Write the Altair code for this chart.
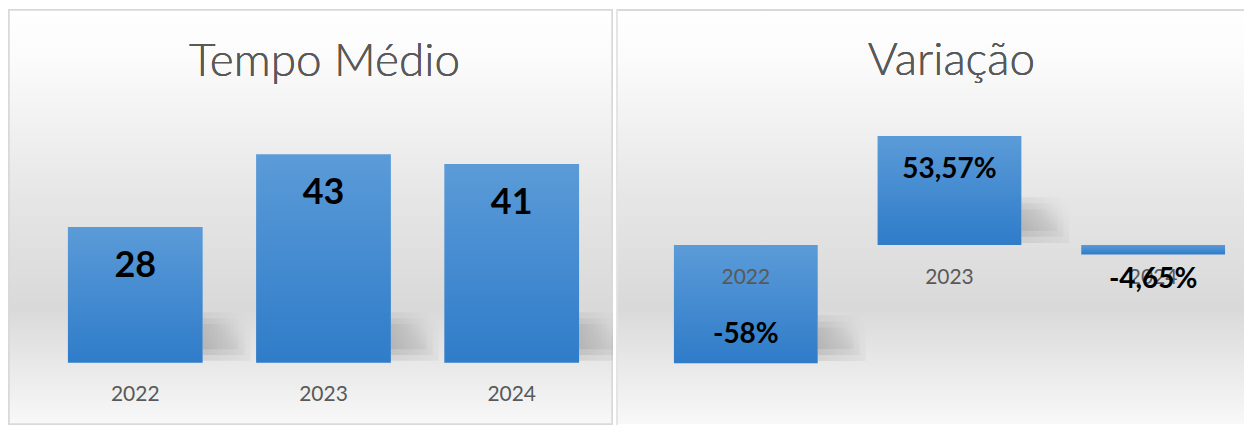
import altair as alt
import pandas as pd

# ---- data ----
years = ["2022", "2023", "2024"]
tempo_medio = [28, 43, 41]
tempo_labels = ["28", "43", "41"]
variacao = [-58, 53.57, -4.65]
variacao_labels = ["-58%", "53,57%", "-4,65%"]
titles = ["Tempo Médio", "Variação"]

df1 = pd.DataFrame({"ano": years, "valor": tempo_medio, "rotulo": tempo_labels})
df2 = pd.DataFrame({"ano": years, "valor": variacao, "rotulo": variacao_labels})

W1, W2, H = 606, 629, 416
FONT = "Lato"
GRAY = "#595959"

bg_gradient = {
    "gradient": "linear", "x1": 0, "y1": 0, "x2": 0, "y2": 1,
    "stops": [
        {"offset": 0.0, "color": "#ffffff"},
        {"offset": 0.12, "color": "#fbfbfb"},
        {"offset": 0.45, "color": "#e6e6e6"},
        {"offset": 0.72, "color": "#d9d9d9"},
        {"offset": 0.86, "color": "#e9e9e9"},
        {"offset": 1.0, "color": "#f8f8f8"},
    ],
}
bar_gradient = {
    "gradient": "linear", "x1": 0, "y1": 0, "x2": 0, "y2": 1,
    "stops": [
        {"offset": 0.0, "color": "#5b9bd8"},
        {"offset": 1.0, "color": "#2f7cc9"},
    ],
}
shadow_gradient = {
    "gradient": "linear", "x1": 0, "y1": 0.8, "x2": 1, "y2": 0.2,
    "stops": [
        {"offset": 0.0, "color": "rgba(80,80,80,0.12)"},
        {"offset": 0.5, "color": "rgba(80,80,80,0.07)"},
        {"offset": 1.0, "color": "rgba(80,80,80,0)"},
    ],
}


def background(df, w, stroke):
    kw = dict(fill=bg_gradient)
    if stroke:
        kw.update(stroke=stroke, strokeWidth=1.5)
    return alt.Chart(df).mark_rect(**kw).encode(
        x=alt.value(1), x2=alt.value(w - 1), y=alt.value(0.75), y2=alt.value(H - 0.75)
    )


def title(df, text, cx, base):
    return alt.Chart(df).mark_text(
        text=text, font=FONT, fontSize=46, fontWeight=300, color=GRAY, baseline="alphabetic"
    ).encode(x=alt.value(cx), y=alt.value(base))


def shadows(base, x, ys, bands, off):
    out = []
    for lo, hi, wd in bands:
        out.append(
            base.transform_filter("abs(datum.valor) > 10")
            .transform_calculate(
                s1=f"(datum.valor < 0 ? datum.valor : 0) + {lo}",
                s2=f"(datum.valor < 0 ? datum.valor : 0) + {hi}",
            )
            .mark_bar(fill=shadow_gradient, width=wd, xOffset=off + wd / 2, clip=True)
            .encode(x=x, y=alt.Y("s1:Q", scale=ys, axis=None), y2="s2:Q")
        )
    return out


# ---- left panel ----
x1 = alt.X("ano:N", scale=alt.Scale(range=[60, 572], paddingInner=0.284, paddingOuter=0), axis=None)
y1s = alt.Scale(domain=[0, 72.9], range=[354, 0], nice=False, zero=False)
y1 = alt.Y("valor:Q", scale=y1s, axis=None)

base1 = alt.Chart(df1)
sh1 = shadows(base1, x1, y1s, [(0.4, 10.4, 48), (1.6, 9.2, 42), (2.8, 8.0, 36)], 67.5)
bars1 = base1.mark_bar(fill=bar_gradient).encode(x=x1, y=y1)
cats1 = base1.transform_calculate(pos="-7.8").mark_text(
    font=FONT, fontSize=21, color=GRAY, baseline="alphabetic"
).encode(x=x1, y=alt.Y("pos:Q", scale=y1s, axis=None), text="ano:N")
labs1 = base1.mark_text(font=FONT, fontSize=36, fontWeight="bold", color="#000000",
                        baseline="alphabetic", dy=50).encode(x=x1, y=y1, text="rotulo:N")
left = alt.layer(background(df1, W1, "#d9d9d9"), title(df1, titles[0], 317, 67),
                 *sh1, bars1, cats1, labs1).properties(width=W1, height=H)

# ---- right panel ----
x2 = alt.X("ano:N", scale=alt.Scale(range=[58, 610], paddingInner=0.294, paddingOuter=0), axis=None)
y2s = alt.Scale(domain=[-88.2, 115.7], nice=False, zero=False)
y2 = alt.Y("valor:Q", scale=y2s, axis=None)

base2 = alt.Chart(df2)
sh2 = shadows(base2, x2, y2s, [(1.0, 23.5, 48), (4.0, 20.5, 42), (7.0, 17.5, 36)], 72)
bars2 = base2.mark_bar(fill=bar_gradient).encode(x=x2, y=y2)
cats2 = base2.transform_calculate(pos="-19.1").mark_text(
    font=FONT, fontSize=21, color=GRAY, baseline="alphabetic"
).encode(x=x2, y=alt.Y("pos:Q", scale=y2s, axis=None), text="ano:N")
lab_style = dict(font=FONT, fontSize=28, fontWeight="bold", color="#000000", baseline="alphabetic")
labs2_pos = base2.transform_filter("datum.valor > 10").mark_text(dy=42, **lab_style).encode(
    x=x2, y=y2, text="rotulo:N")
labs2_neg = base2.transform_filter("datum.valor < -10").mark_text(dy=-20, **lab_style).encode(
    x=x2, y=y2, text="rotulo:N")
labs2_small = base2.transform_filter("abs(datum.valor) <= 10").mark_text(dy=34, **lab_style).encode(
    x=x2, y=y2, text="rotulo:N")
top_line = alt.Chart(df2).mark_rule(color="#d9d9d9", strokeWidth=1.5).encode(
    x=alt.value(0), x2=alt.value(W2), y=alt.value(0.75))
left_line = alt.Chart(df2).mark_rule(color="#e4e4e4", strokeWidth=1.5).encode(
    x=alt.value(0.75), y=alt.value(0), y2=alt.value(H))
right = alt.layer(background(df2, W2 + 1, None), title(df2, titles[1], 336, 66),
                  *sh2, bars2, cats2, labs2_pos, labs2_neg, labs2_small,
                  top_line, left_line).properties(width=W2, height=H)

chart = alt.hconcat(left, right, spacing=2).properties(padding=0).configure_view(stroke=None)

chart.save("out.html", embed_options={"renderer": "svg", "actions": False})
